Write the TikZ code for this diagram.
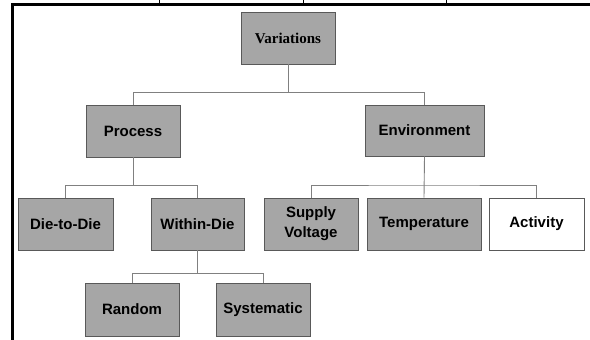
\documentclass[tikz,border=0pt]{standalone}
\usepackage{fontspec}
\setmainfont{Liberation Serif}
\setsansfont{Liberation Sans}
\begin{document}
\begin{tikzpicture}[x=1pt,y=-1pt,
  box/.style={draw=black!65,line width=0.9pt,fill=black!35,inner sep=2pt,align=center,
    font=\sffamily\bfseries\fontsize{15}{20}\selectfont},
  whitebox/.style={box,fill=white},
  conn/.style={draw=black!50,line width=0.9pt}]
\useasboundingbox (0,0) rectangle (590,340);
% frame
\draw[line width=2.5pt] (12.5,340) -- (12.5,4.5) -- (590,4.5);
\draw[line width=0.6pt] (159,0) -- (159,3.5) (303,0) -- (303,3.5) (446,0) -- (446,3.5);
% nodes
\node[box,minimum width=94pt,minimum height=52pt,font=\rmfamily\bfseries\fontsize{15}{18}\selectfont] (var) at (288,38) {Variations};
\node[box,minimum width=94pt,minimum height=52pt] (proc) at (133,131) {Process};
\node[box,minimum width=119pt,minimum height=51pt] (env) at (424.5,130.5) {Environment};
\node[box,minimum width=95pt,minimum height=52pt] (d2d) at (65.5,224) {Die-to-Die};
\node[box,minimum width=93pt,minimum height=52pt] (wd) at (197.5,224) {Within-Die};
\node[box,minimum width=94pt,minimum height=52pt] (sv) at (311,224) {Supply\\Voltage};
\node[box,minimum width=114pt,minimum height=52pt] (temp) at (424,224) {Temperature};
\node[whitebox,minimum width=95pt,minimum height=52pt] (act) at (536.5,224) {Activity};
\node[box,minimum width=94pt,minimum height=53pt] (rand) at (132,309.5) {Random};
\node[box,minimum width=94pt,minimum height=53pt] (sys) at (263,309.5) {Systematic};
% bus levels
\coordinate (b1) at (0,92);
\coordinate (b2) at (0,185);
\coordinate (b3) at (0,273);
% connectors
\draw[conn] (var.south) -- (var.south |- b1) -| (proc.north);
\draw[conn] (var.south |- b1) -| (env.north);
\draw[conn] (proc.south) -- (proc.south |- b2) -| (d2d.north);
\draw[conn] (proc.south |- b2) -| (wd.north);
\draw[conn] (env.south) -- (temp.north);
\draw[conn] (sv.north) |- (env.south |- b2) -| (act.north);
\draw[conn] (wd.south) -- (wd.south |- b3) -| (rand.north);
\draw[conn] (wd.south |- b3) -| (sys.north);
\end{tikzpicture}
\end{document}
